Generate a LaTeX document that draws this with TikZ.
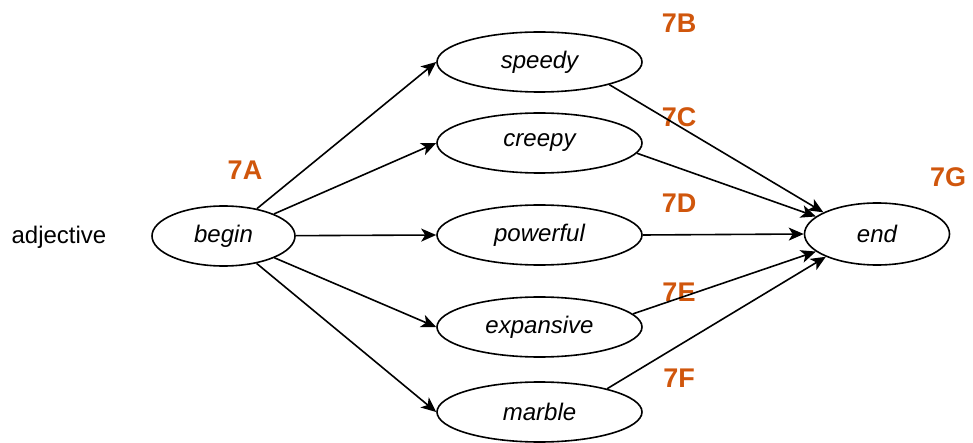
\documentclass[tikz,border=0pt]{standalone}
\usepackage{fontspec}
\setmainfont{Liberation Sans}
\usetikzlibrary{arrows.meta,shapes.geometric}
\definecolor{tagor}{RGB}{208,86,12}

\begin{document}
\begin{tikzpicture}[x=1pt, y=-1pt,
  word/.style={draw, ellipse, line width=1.6pt, inner sep=0pt, minimum width=205pt, minimum height=60pt, font=\fontsize{24}{28}\selectfont\itshape},
  tag/.style={font=\fontsize{27}{31}\selectfont\bfseries, text=tagor},
  link/.style={-{Stealth[length=15pt, width=13pt, inset=4pt]}, line width=1.6pt}]
  \useasboundingbox (0,0) rectangle (973,443);
  % start and end
  \node[font=\fontsize{24}{28}\selectfont] (adj) at (59,237) {adjective};
  \node[word, minimum width=143pt] (begin) at (223.5,236) {begin};
  \node[word, minimum width=145pt, minimum height=62pt] (end) at (877,234) {end};
  % words
  \node[word] (speedy) at (539.5,62) {speedy};
  \node[word] (creepy) at (539.5,143) {creepy};
  \node[word] (powerful) at (539.5,235) {powerful};
  \node[word] (expansive) at (539.5,327) {expansive};
  \node[word] (marble) at (539.5,412) {marble};
  % tags
  \node[tag] (t7a) at (245,170) {7A};
  \node[tag] (t7b) at (679,23) {7B};
  \node[tag] (t7c) at (679,117) {7C};
  \node[tag] (t7d) at (679,203) {7D};
  \node[tag] (t7e) at (679,292) {7E};
  \node[tag] (t7f) at (679,378) {7F};
  \node[tag] (t7g) at (948,177) {7G};
  % links
  \foreach \w in {speedy,creepy,powerful,expansive,marble}
    \draw[link] (begin) -- (\w.west);
  \draw[link] (speedy.-18) -- (end.158);
  \draw[link] (creepy.-6) -- (end.164);
  \draw[link] (powerful.east) -- (end.west);
  \draw[link] (expansive.8) -- (end.196);
  \draw[link] (marble.19) -- (end.204);
\end{tikzpicture}
\end{document}
